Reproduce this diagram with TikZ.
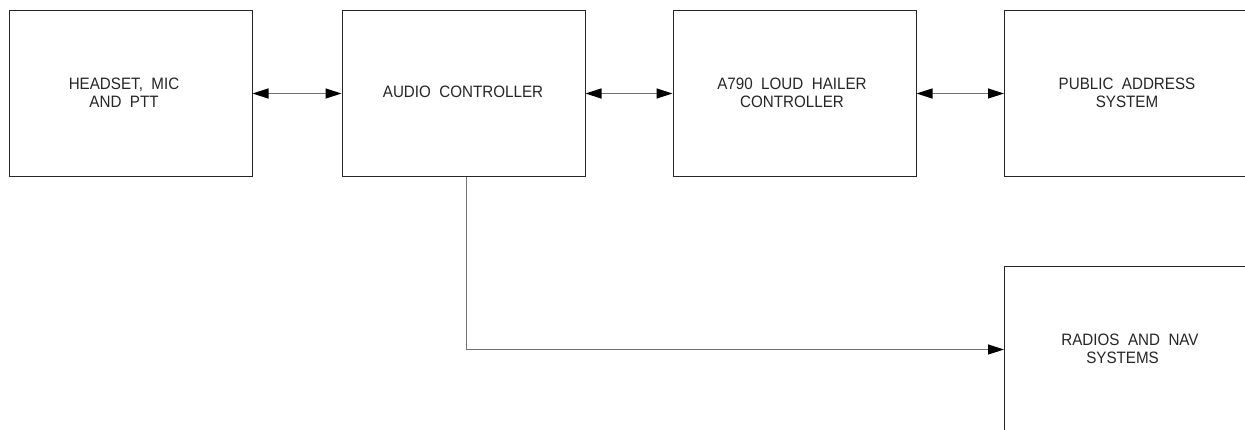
\documentclass[tikz,border=0pt]{standalone}
\usepackage{fontspec}
\setmainfont{Liberation Sans}[FakeStretch=0.92]
\usetikzlibrary{arrows.meta}
\begin{document}
\begin{tikzpicture}[x=1pt,y=-1pt,
  blk/.style={draw=black!85, line width=1pt, minimum width=243pt, minimum height=166pt, inner sep=0pt, anchor=north west},
  lbl/.style={font=\fontsize{16.5}{18}\selectfont, align=center, text=black!85},
  conn/.style={draw=black!55, line width=1.2pt},
  tip/.style={-{Triangle[length=16pt,width=10pt,color=black]}},
  bitip/.style={{Triangle[length=16pt,width=10pt,color=black]}-{Triangle[length=16pt,width=10pt,color=black]}}]
\clip (0,0) rectangle (1245,429);
\fill[white] (0,0) rectangle (1245,429);
\node[blk] (b1) at (8.5,10) {};
\node[blk] (b2) at (341.5,10) {};
\node[blk] (b3) at (672.5,10) {};
\node[blk] (b4) at (1004,10) {};
\node[blk] (b5) at (1004,266) {};
\node[lbl] (t1) at (124,93) {HEADSET,\ \ MIC\\AND\ \ PTT};
\node[lbl] (t2) at (463,92) {AUDIO\ \ CONTROLLER};
\node[lbl] (t3) at (792,93) {A790\ \ LOUD\ \ HAILER\\CONTROLLER};
\node[lbl] (t4) at (1127,93) {PUBLIC\ \ ADDRESS\\SYSTEM};
\node[lbl] (t5) at (1130,349) {RADIOS\ \ AND\ \ NAV\\\hspace*{-0.9em}SYSTEMS};
\draw[conn,bitip] (b1.east) -- (b2.west);
\draw[conn,bitip] (b2.east) -- (b3.west);
\draw[conn,bitip] (b3.east) -- (b4.west);
\draw[conn,tip] ([xshift=3pt]b2.south) |- (b5.west);
\end{tikzpicture}
\end{document}
